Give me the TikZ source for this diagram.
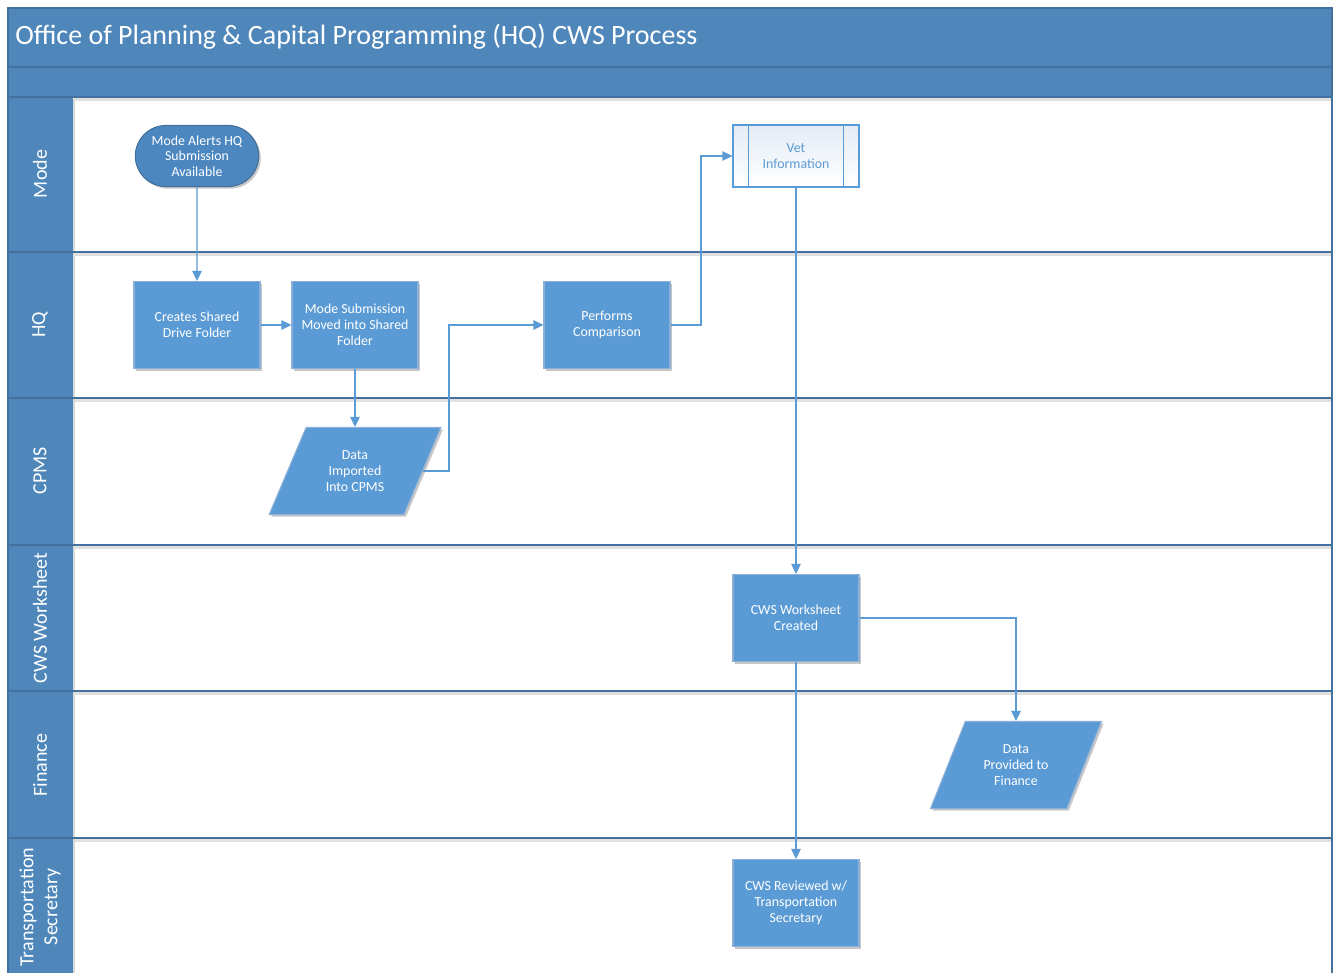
\documentclass[tikz,border=0pt]{standalone}
\usepackage{fontspec}
\setmainfont{Carlito}
\usetikzlibrary{shapes.geometric,shapes.misc,shadows,arrows.meta,calc}
\definecolor{hdr}{HTML}{4F87BB}
\definecolor{lanec}{HTML}{41719C}
\definecolor{boxc}{HTML}{5B9BD5}
\definecolor{boxb}{HTML}{8CB0D8}
\definecolor{termc}{HTML}{4C87C0}
\definecolor{vetfill}{HTML}{E3ECF7}
\tikzset{
  shad/.style={drop shadow={shadow xshift=1.6pt,shadow yshift=-1.6pt,fill=black,opacity=0.22}},
  procbox/.style={shape=rectangle, draw=boxb, line width=0.8pt, fill=boxc, text=white,
    minimum width=94.5pt, minimum height=65.25pt, align=center, inner sep=2pt,
    font=\fontsize{10.4}{12}\selectfont, shad},
  termbox/.style={shape=rounded rectangle, draw=lanec, line width=0.8pt, fill=termc, text=white,
    minimum width=94.5pt, minimum height=45.75pt, align=center, inner sep=1pt,
    font=\fontsize{10.4}{11.7}\selectfont, shad},
  databox/.style={shape=trapezium, trapezium left angle=62.6, trapezium right angle=117.4,
    trapezium stretches=true, draw=boxb, line width=0.8pt, fill=boxc, text=white,
    minimum width=129pt, minimum height=65.25pt, align=center, inner sep=2pt,
    font=\fontsize{10.4}{12}\selectfont, shad},
  vetbox/.style={shape=rectangle, draw=boxc, line width=0.9pt, top color=vetfill, bottom color=white,
    text=boxc, minimum width=94.5pt, minimum height=46.5pt, align=center, inner sep=2pt,
    font=\fontsize{10.4}{11.7}\selectfont},
  lanelbl/.style={rotate=90, text=white, align=center, font=\fontsize{15}{18}\selectfont},
  arr/.style={draw=boxc, line width=1.1pt, -{Triangle[length=7.5pt,width=7pt]}},
  laneline/.style={draw=lanec, line width=0.9pt},
  laneshadow/.style={draw=black!12, line width=2.2pt}
}
\begin{document}
\begin{tikzpicture}[x=0.75pt,y=-0.75pt]
\useasboundingbox (0,0) rectangle (1336,972);
\fill[white] (0,0) rectangle (1336,972);
% header bands
\fill[hdr] (8,8) rectangle (1332,97);
\draw[laneline] (8,67) -- (1332,67);
% label column
\fill[hdr] (8,97) rectangle (73,1000);
\draw[black!15, line width=1.5pt] (74,99) -- (74,1000);
% lane separators
\foreach \yy in {97,252,398,545,691,838} {
  \draw[laneshadow] (74,\yy+2.5) -- (1331,\yy+2.5);
  \draw[laneline] (8,\yy) -- (1332,\yy);
}
% frame
\draw[laneline] (8,1000) -- (8,8) -- (1332,8) -- (1332,1000);

% title
\node[anchor=west, text=white, font=\fontsize{21}{24}\selectfont, inner sep=0pt] (title) at (15,37) {Office of Planning \& Capital Programming (HQ) CWS Process};

% lane labels
\node[lanelbl] (lmode) at (40,174) {Mode};
\node[lanelbl] (lhq) at (40,325) {HQ};
\node[lanelbl] (lcpms) at (40,471) {CPMS};
\node[lanelbl] (lcws) at (40,618) {CWS Worksheet};
\node[lanelbl] (lfin) at (40,765) {Finance};
\node[lanelbl] (lts) at (40,907) {Transportation\\Secretary};

% nodes
\node[termbox] (ma) at (197,156) {Mode Alerts HQ\\Submission\\Available};
\node[procbox] (cs) at (197,325) {Creates Shared\\Drive Folder};
\node[procbox] (ms) at (355,325) {Mode Submission\\Moved into Shared\\Folder};
\node[procbox] (pc) at (607,325) {Performs\\Comparison};
\node[vetbox] (vet) at (796,156) {Vet\\Information};
\draw[draw=boxc, line width=0.9pt] ([xshift=12pt]vet.north west) -- ([xshift=12pt]vet.south west);
\draw[draw=boxc, line width=0.9pt] ([xshift=-12pt]vet.north east) -- ([xshift=-12pt]vet.south east);
\node[databox] (di) at (355,471) {Data\\Imported\\Into CPMS};
\node[procbox] (cw) at (796,618) {CWS Worksheet\\Created};
\node[databox] (df) at (1016,765) {Data\\Provided to\\Finance};
\node[procbox] (cr) at (796,903) {CWS Reviewed w/\\Transportation\\Secretary};

% junction coordinates
\coordinate (j1) at (449,325);
\coordinate (j2) at (701,156);

% connectors
\draw[arr] (ma) -- (cs);
\draw[arr] (cs) -- (ms);
\draw[arr] (ms.south) -- (ms.south |- di.north);
\draw[arr] (di.east) -| (j1) -- (pc.west);
\draw[arr] (pc.east) -| (j2) -- (vet.west);
\draw[arr] (vet) -- (cw);
\draw[arr] (cw.east) -| (df.north);
\draw[arr] (cw) -- (cr);
\end{tikzpicture}
\end{document}
